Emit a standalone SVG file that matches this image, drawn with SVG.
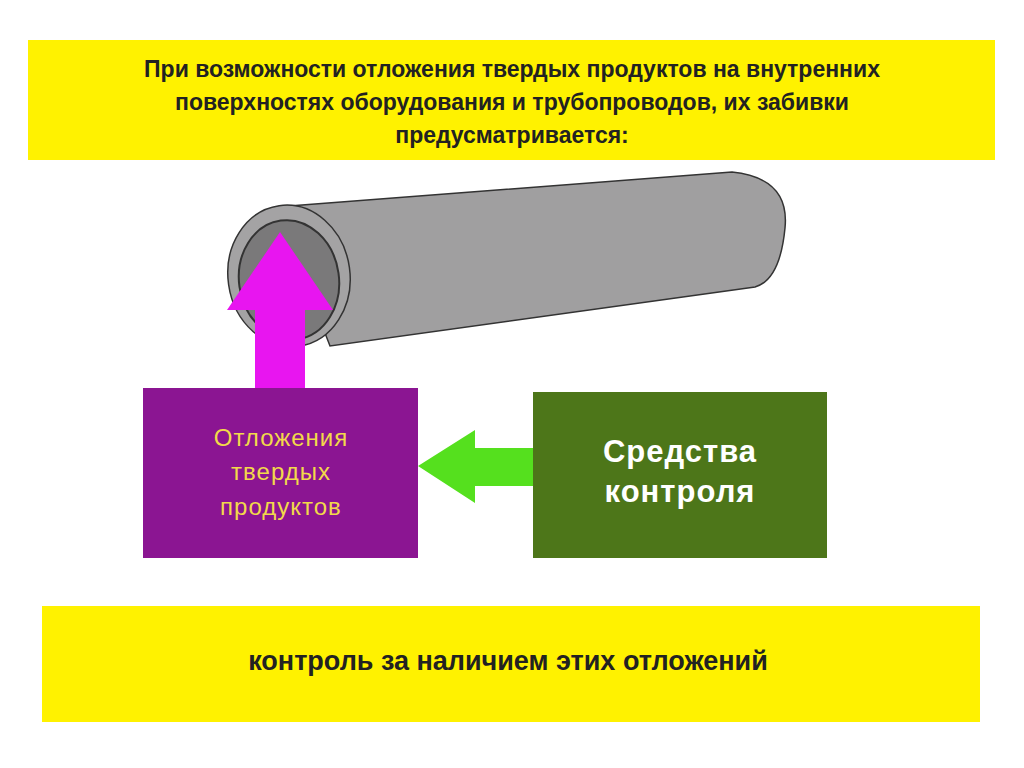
<svg xmlns="http://www.w3.org/2000/svg" width="1024" height="768" viewBox="0 0 1024 768">
<style>
text{font-family:"Liberation Sans",Arial,sans-serif;font-weight:bold;text-anchor:middle}
.t{font-size:23px;fill:#222}
.p{font-size:24px;fill:#f2d94a;font-weight:normal;letter-spacing:1px}
.g{font-size:31px;fill:#fff;letter-spacing:1px}
</style>
<rect width="1024" height="768" fill="#fff"/>
<g id="header">
<rect x="28" y="40" width="967" height="120" fill="#fff200"/>
<text class="t" x="512" y="77">При возможности отложения твердых продуктов на внутренних</text>
<text class="t" x="512" y="110">поверхностях оборудования и трубопроводов, их забивки</text>
<text class="t" x="512" y="143">предусматривается:</text>
</g>
<g id="pipe" stroke="#333" stroke-width="1.5">
<path d="M276,207 L732,172 Q790,178 785,228 Q780,280 755,287 L330,346 Z" fill="#a09fa0"/>
<ellipse cx="289" cy="276" rx="61" ry="71" transform="rotate(-8 289 276)" fill="#a4a3a4"/>
<ellipse cx="289" cy="280" rx="50" ry="60" transform="rotate(-8 289 280)" fill="#7a797a" stroke-width="2"/>
</g>
<g id="connectors">
<polygon points="255,388 255,310 227,310 280,232 333,310 305,310 305,388" fill="#e815f0"/>
<polygon points="533,448 475,448 475,430 418,466 475,503 475,486 533,486" fill="#55e01e"/>
</g>
<g id="deposits">
<rect x="143" y="388" width="275" height="170" fill="#8b1592"/>
<text class="p" x="281" y="446">Отложения</text>
<text class="p" x="281" y="480">твердых</text>
<text class="p" x="281" y="515">продуктов</text>
</g>
<g id="control">
<rect x="533" y="392" width="294" height="166" fill="#4d7619"/>
<text class="g" x="680" y="462">Средства</text>
<text class="g" x="680" y="502">контроля</text>
</g>
<g id="footer">
<rect x="42" y="606" width="938" height="116" fill="#fff200"/>
<text x="508" y="670" style="font-size:27px;fill:#222">контроль  за наличием этих отложений</text>
</g>
</svg>
